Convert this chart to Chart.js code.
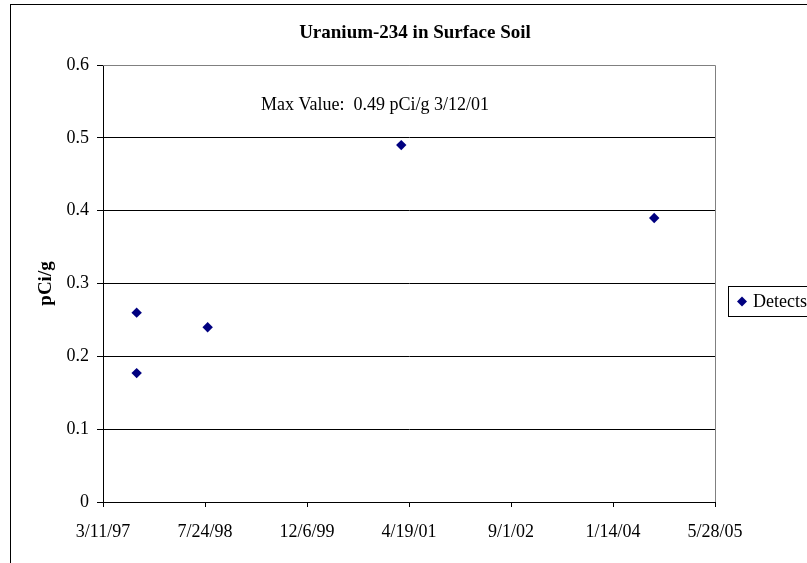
<!DOCTYPE html>
<html>
<head>
<meta charset="utf-8">
<script src="https://cdn.jsdelivr.net/npm/chart.js@4/dist/chart.umd.min.js"></script>
<style>
  html, body { margin: 0; padding: 0; background: #fff; overflow: hidden; }
  canvas { display: block; }
</style>
</head>
<body>
<canvas id="uChart" width="880" height="563"></canvas>
<script>
// dados
const sampleDates = ["8/23/97", "8/23/97", "8/6/98", "3/12/01", "8/3/04"];
const detectValues = [0.26, 0.177, 0.24, 0.49, 0.39];
const seriesName = "Detects";
const chartTitle = "Uranium-234 in Surface Soil";
const yAxisTitle = "pCi/g";
const maxNote = "Max Value:  0.49 pCi/g 3/12/01";
// eixo x em datas seriais do Excel
const xMin = 35500, xMax = 38500, xStep = 500;
const yMin = 0, yMax = 0.6, yStep = 0.1;

const serif = "'Liberation Serif', 'Times New Roman', serif";
const navy = "#000080";

function toSerial(str) {
  const p = str.split("/").map(Number);
  const yr = p[2] < 50 ? 2000 + p[2] : 1900 + p[2];
  return Date.UTC(yr, p[0] - 1, p[1]) / 86400000 + 25569;
}

function fromSerial(serial) {
  const d = new Date((serial - 25569) * 86400000);
  const yy = String(d.getUTCFullYear() % 100).padStart(2, "0");
  return d.getUTCMonth() + 1 + "/" + d.getUTCDate() + "/" + yy;
}

const points = sampleDates.map((d, i) => ({ x: toSerial(d), y: detectValues[i] }));

// moldura, título, nota e legenda no estilo Excel
const excelDecor = {
  id: "excelDecor",
  beforeDraw(chart) {
    const ctx = chart.ctx;
    ctx.save();
    ctx.fillStyle = "#fff";
    ctx.fillRect(0, 0, chart.width, chart.height);
    ctx.strokeStyle = "#000";
    ctx.lineWidth = 1;
    ctx.strokeRect(10.5, 4.5, 820, 600);
    ctx.restore();
  },
  afterDraw(chart) {
    const ctx = chart.ctx;
    const area = chart.chartArea;
    ctx.save();
    // borda da área de plotagem (cinza)
    ctx.strokeStyle = "#808080";
    ctx.lineWidth = 1;
    ctx.beginPath();
    ctx.moveTo(area.left, area.top + 0.5);
    ctx.lineTo(area.right + 0.5, area.top + 0.5);
    ctx.lineTo(area.right + 0.5, area.bottom);
    ctx.stroke();

    ctx.fillStyle = "#000";
    ctx.textBaseline = "middle";
    ctx.textAlign = "center";
    ctx.font = "bold 19px " + serif;
    ctx.fillText(chartTitle, 415, 33);

    ctx.textAlign = "left";
    ctx.font = "18px " + serif;
    ctx.fillText(maxNote, 261, 105);

    // legenda
    ctx.strokeStyle = "#000";
    ctx.strokeRect(728.5, 286.5, 100, 30);
    ctx.fillStyle = navy;
    ctx.beginPath();
    ctx.moveTo(742, 296.5);
    ctx.lineTo(747, 301.5);
    ctx.lineTo(742, 306.5);
    ctx.lineTo(737, 301.5);
    ctx.closePath();
    ctx.fill();
    ctx.fillStyle = "#000";
    ctx.fillText(seriesName, 753, 302);
    ctx.restore();
  },
};

new Chart(document.getElementById("uChart"), {
  type: "scatter",
  data: {
    datasets: [
      {
        label: seriesName,
        data: points,
        backgroundColor: navy,
        borderColor: navy,
        pointStyle: "rectRot",
        pointRadius: 5.2,
        pointHoverRadius: 5.2,
        borderWidth: 0,
      },
    ],
  },
  options: {
    responsive: false,
    animation: false,
    layout: { padding: { left: 0, top: 65, right: 165, bottom: 21 } },
    plugins: {
      legend: { display: false },
      title: { display: false },
      tooltip: { enabled: false },
    },
    scales: {
      x: {
        type: "linear",
        min: xMin,
        max: xMax,
        afterBuildTicks: (scale) => {
          const t = [];
          for (let v = xMin; v <= xMax; v += xStep) t.push({ value: v });
          scale.ticks = t;
        },
        afterFit: (scale) => {
          scale.height = 40;
        },
        border: { color: "#000", width: 1 },
        grid: {
          drawOnChartArea: false,
          tickLength: 5,
          tickColor: "#000",
        },
        ticks: {
          color: "#000",
          padding: 14,
          maxRotation: 0,
          autoSkip: false,
          font: { family: serif, size: 18 },
          callback: (v) => fromSerial(v),
        },
      },
      y: {
        min: yMin,
        max: yMax,
        afterFit: (scale) => {
          scale.width = 103;
        },
        border: { color: "#000", width: 1 },
        grid: {
          color: (c) => (c.tick && c.tick.value >= yMax - 1e-9 ? "#808080" : "#000"),
          tickColor: "#000",
          tickLength: 6,
        },
        ticks: {
          stepSize: yStep,
          color: "#000",
          padding: 8,
          font: { family: serif, size: 18 },
          callback: (v) => Math.round(v * 10) / 10,
        },
        title: {
          display: true,
          text: yAxisTitle,
          color: "#000",
          font: { family: serif, size: 19, weight: "bold" },
          padding: { top: 35, bottom: 0 },
        },
      },
    },
  },
  plugins: [excelDecor],
});
</script>
</body>
</html>
